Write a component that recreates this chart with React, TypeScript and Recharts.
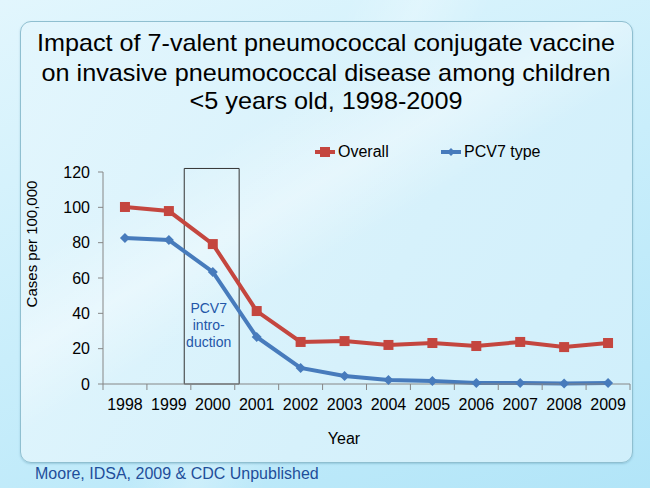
import React from 'react';
import { LineChart, Line, XAxis, YAxis, ReferenceArea, Legend, Label } from 'recharts';

const years = [1998, 1999, 2000, 2001, 2002, 2003, 2004, 2005, 2006, 2007, 2008, 2009];
const overall = [100.2, 97.9, 79.2, 41.3, 23.8, 24.3, 22.1, 23.2, 21.5, 23.8, 20.9, 23.2];
const pcv7Type = [82.6, 81.5, 63.4, 26.6, 9.1, 4.5, 2.3, 1.7, 0.6, 0.6, 0.3, 0.5];
const yTicks = [0, 20, 40, 60, 80, 100, 120];
const seriesNames = ['Overall', 'PCV7 type'];
const titleLines = [
  'Impact of 7-valent pneumococcal conjugate vaccine',
  'on invasive pneumococcal disease among children',
  '<5 years old, 1998-2009',
];
const introLines = ['PCV7', 'intro-', 'duction'];
const introStart = 1999.35;
const introEnd = 2000.6;
const introTop = 122;
const footer = 'Moore, IDSA, 2009 & CDC Unpublished';
const xLabel = 'Year';
const yLabel = 'Cases per 100,000';

const FONT = '"Liberation Sans", Arial, Helvetica, sans-serif';
const RED = '#c4463f';
const BLUE = '#477bbc';
const AXIS = '#868686';

const data = years.map((y, i) => ({ year: y, overall: overall[i], pcv7: pcv7Type[i] }));
const xTicks = [...years.flatMap((y) => [y - 0.5, y]), years[years.length - 1] + 0.5];

const XTick = (props: any) => {
  const { x, y, payload } = props;
  const v = payload.value;
  if (Number.isInteger(v)) {
    return (
      <text x={x} y={y + 26} textAnchor="middle" fontSize={16} fill="#000" fontFamily={FONT}>
        {v}
      </text>
    );
  }
  return <line x1={x} y1={y} x2={x} y2={y + 6} stroke={AXIS} strokeWidth={1} />;
};

const SquareDot = (props: any) => {
  const { cx, cy } = props;
  if (cx == null || cy == null) return null;
  return <rect x={cx - 5} y={cy - 5} width={10} height={10} fill={RED} />;
};

const DiamondDot = (props: any) => {
  const { cx, cy } = props;
  if (cx == null || cy == null) return null;
  return <polygon points={`${cx},${cy - 5} ${cx + 5},${cy} ${cx},${cy + 5} ${cx - 5},${cy}`} fill={BLUE} />;
};

const LegendContent = (props: any) => {
  const { payload } = props;
  return (
    <div style={{ position: 'relative', width: 240, height: 20, fontFamily: FONT, fontSize: 16 }}>
      {(payload || []).map((p: any, i: number) => {
        const isRed = p.value === seriesNames[0];
        return (
          <div key={i} style={{ position: 'absolute', left: i * 126, top: 0, display: 'flex', alignItems: 'center', whiteSpace: 'nowrap' }}>
            <svg width={22} height={20}>
              <line x1={0} y1={10} x2={20} y2={10} stroke={p.color} strokeWidth={4} />
              {isRed ? (
                <rect x={5} y={5} width={10} height={10} fill={p.color} />
              ) : (
                <polygon points="10,6 14,10 10,14 6,10" fill={p.color} />
              )}
            </svg>
            <span style={{ color: '#000', marginLeft: 1 }}>{p.value}</span>
          </div>
        );
      })}
    </div>
  );
};

const IntroLabel = (props: any) => {
  const { viewBox } = props;
  if (!viewBox) return null;
  const cx = viewBox.x + viewBox.width / 2 - 3;
  const base = viewBox.y + viewBox.height;
  return (
    <text textAnchor="middle" fontSize={14} fill="#2356a8" fontFamily={FONT}>
      {introLines.map((l, i) => (
        <tspan key={i} x={cx} y={base - 71 + i * 17}>
          {l}
        </tspan>
      ))}
    </text>
  );
};

const YLabelContent = (props: any) => {
  const { viewBox } = props;
  if (!viewBox) return null;
  const x = 37;
  const y = viewBox.y + viewBox.height / 2 - 34;
  return (
    <text x={x} y={y} transform={`rotate(-90, ${x}, ${y})`} textAnchor="middle" fontSize={15} fill="#000" fontFamily={FONT}>
      {yLabel}
    </text>
  );
};

const XLabelContent = (props: any) => {
  const { viewBox } = props;
  if (!viewBox) return null;
  return (
    <text x={344} y={viewBox.y + 60} textAnchor="middle" fontSize={16} fill="#000" fontFamily={FONT}>
      {xLabel}
    </text>
  );
};

export default function App() {
  return (
    <div
      style={{
        position: 'absolute',
        left: 0,
        top: 0,
        width: 650,
        height: 488,
        overflow: 'hidden',
        background:
          'linear-gradient(115deg, rgba(255,255,255,0) 0%, rgba(255,255,255,0) 40%, rgba(255,255,255,0.25) 48%, rgba(255,255,255,0) 56%, rgba(255,255,255,0) 100%), linear-gradient(160deg, #e2f6fd 0%, #c9eefb 50%, #b2e5f8 100%)',
        fontFamily: FONT,
      }}
    >
      <div
        style={{
          position: 'absolute',
          left: 20,
          top: 21,
          width: 611,
          height: 440,
          borderRadius: 11,
          border: '1.5px solid #8fbfd0',
          background:
            'linear-gradient(150deg, rgba(255,255,255,0) 30%, rgba(255,255,255,0.35) 42%, rgba(255,255,255,0) 52%), linear-gradient(120deg, #e3f6fd 0%, #d6f1fb 60%, #d0effb 100%)',
          boxShadow: '0 1px 2px rgba(80,140,170,0.35)',
        }}
      />
      <svg width={650} height={488} style={{ position: 'absolute', left: 0, top: 0 }}>
        <text x={326} y={51} textAnchor="middle" fontSize={24} fill="#000" fontFamily={FONT} textLength={578} lengthAdjust="spacingAndGlyphs">
          {titleLines[0]}
        </text>
        <text x={326} y={81} textAnchor="middle" fontSize={24} fill="#000" fontFamily={FONT} textLength={569} lengthAdjust="spacingAndGlyphs">
          {titleLines[1]}
        </text>
        <text x={326} y={109} textAnchor="middle" fontSize={24} fill="#000" fontFamily={FONT} textLength={273} lengthAdjust="spacingAndGlyphs">
          {titleLines[2]}
        </text>
        <text x={35} y={479} fontSize={16} fill="#1f4e9a" fontFamily={FONT}>
          {footer}
        </text>
      </svg>
      <div style={{ position: 'absolute', left: 0, top: 0 }}>
        <LineChart width={650} height={488} data={data} margin={{ top: 172, right: 20, left: 0, bottom: 0 }}>
          <XAxis
            dataKey="year"
            type="number"
            domain={[years[0] - 0.5, years[years.length - 1] + 0.5]}
            ticks={xTicks}
            interval={0}
            tick={<XTick />}
            tickLine={false}
            tickSize={0}
            tickMargin={0}
            height={104}
            axisLine={{ stroke: AXIS, strokeWidth: 1 }}
          >
            <Label content={<XLabelContent />} />
          </XAxis>
          <YAxis
            domain={[0, 120]}
            ticks={yTicks}
            interval={0}
            width={103}
            tickSize={5}
            tickMargin={8}
            tick={{ fontSize: 16, fill: '#000', fontFamily: FONT }}
            tickLine={{ stroke: AXIS }}
            axisLine={{ stroke: AXIS, strokeWidth: 1 }}
          >
            <Label content={<YLabelContent />} />
          </YAxis>
          <ReferenceArea
            x1={introStart}
            x2={introEnd}
            y1={0}
            y2={introTop}
            ifOverflow="visible"
            fill="none"
            fillOpacity={0}
            stroke="#333"
            strokeWidth={1}
            label={<IntroLabel />}
          />
          <Legend
            layout="horizontal"
            verticalAlign="middle"
            align="center"
            content={<LegendContent />}
            wrapperStyle={{ left: 315, top: 142, width: 240, height: 20 }}
          />
          <Line
            name={seriesNames[0]}
            dataKey="overall"
            stroke={RED}
            strokeWidth={4}
            dot={<SquareDot />}
            activeDot={false}
            isAnimationActive={false}
          />
          <Line
            name={seriesNames[1]}
            dataKey="pcv7"
            stroke={BLUE}
            strokeWidth={4}
            dot={<DiamondDot />}
            activeDot={false}
            isAnimationActive={false}
          />
        </LineChart>
      </div>
    </div>
  );
}
